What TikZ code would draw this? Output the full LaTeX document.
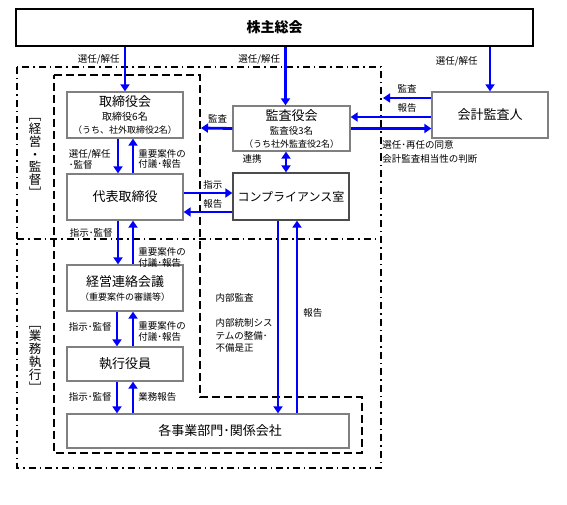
\documentclass[tikz,border=0pt]{standalone}
\usepackage{fontspec}
\setmainfont{Noto Sans CJK JP}
\usetikzlibrary{calc,arrows.meta}

\begin{document}
\begin{tikzpicture}[x=1pt, y=-1pt]
{
	\tikzstyle{topbox} = [rectangle, draw=black, line width=2pt, minimum width=517pt, minimum height=37pt, font=\fontsize{14}{16}\selectfont]
	\tikzstyle{box} = [rectangle, draw=gray, line width=1.3pt, minimum width=116pt, minimum height=46pt, inner sep=1pt, align=center, font=\fontsize{9.5}{13}\selectfont]
	\tikzstyle{arrow} = [line width=2.8pt, blue, -{Triangle[length=7pt,width=9pt]}]
	\tikzstyle{lbl} = [font=\fontsize{9.5}{10.5}\selectfont, inner sep=1pt, align=left, text=black]
	\tikzstyle{vlbl} = [font=\fontsize{12.5}{12.8}\selectfont, inner sep=0pt, align=center]
	\tikzstyle{outerframe} = [line width=1.5pt, dash pattern=on 7pt off 4pt on 1.5pt off 4pt]
	\tikzstyle{innerframe} = [line width=2pt, dash pattern=on 8pt off 4pt]
	\newcommand{\ttl}{\fontsize{13}{13}\selectfont}

	\useasboundingbox (0,0) rectangle (567,505);

	% frames
	\draw [outerframe] (17,67) rectangle (381,468);
	\draw [outerframe] (17,239) -- (381,239);
	\draw [innerframe] (54,75) -- (200,75) -- (200,397) -- (362,397) -- (362,453) -- (54,453) -- cycle;
	\coordinate (innerfr) at (201,128);
	\coordinate (outerfr) at (383,98);

	\node (keiei) at (35,158) [vlbl] {﹇\\経\\営\\・\\監\\督\\﹈};
	\node (gyomu) at (35,359) [vlbl] {﹇\\業\\務\\執\\行\\﹈};

	% boxes
	\node (kabu) at (274.5,27.5) [topbox] {\bfseries 株主総会};
	\node (tori) at (125,115) [box] {{\ttl 取締役会}\\[1pt]{\fontsize{10}{13}\selectfont 取締役6名}\\{\fontsize{9}{13}\selectfont（うち、社外取締役2名）}};
	\node (daihyo) at (125,197) [box, font=\fontsize{13}{15}\selectfont] {代表取締役};
	\node (kansa) at (291.5,128.5) [box, minimum width=117pt, minimum height=45pt] {{\ttl 監査役会}\\[1pt]監査役3名\\{\fontsize{9}{13}\selectfont（うち社外監査役2名）}};
	\node (kaikei) at (490,115) [box, font=\fontsize{13}{15}\selectfont] {会計監査人};
	\node (comp) at (291,196.5) [box, draw=black!70, minimum height=47pt, font=\fontsize{12}{15}\selectfont] {コンプライアンス室};
	\node (renraku) at (125,288) [box] {{\ttl 経営連絡会議}\\[1pt]{\fontsize{9}{13}\selectfont（重要案件の審議等）}};
	\node (shikko) at (125,364) [box, minimum height=34pt, font=\fontsize{13}{15}\selectfont] {執行役員};
	\node (jigyo) at (208,431) [box, minimum width=282pt, minimum height=34pt, font=\fontsize{13}{15}\selectfont] {\hspace{24pt}各事業部門･関係会社};

	% arrows from shareholders
	\coordinate (k2) at ($(kansa.north)+(-6,0)$);
	\draw [arrow] (kabu.south -| tori.north) -- node[lbl, pos=0.28, left=3pt] {選任/解任} (tori.north);
	\draw [arrow] (kabu.south -| k2) -- node[lbl, pos=0.22, left=3pt] {選任/解任} (k2);
	\draw [arrow] (kabu.south -| kaikei.north) -- node[lbl, pos=0.33, left=10pt] {選任/解任} (kaikei.north);

	% audit
	\draw [arrow] ($(kaikei.west)+(0,-17)$) -- node[lbl, above=3pt] {監査} (outerfr);
	\draw [arrow] ($(kaikei.west)+(0,2)$) -- node[lbl, pos=0.3, above=2pt] {報告} ($(kansa.east)+(0,-11.5)$);
	\draw [arrow] (kansa.east) -- node[lbl, pos=0.4, below right, yshift=-10pt, xshift=-3pt, font=\fontsize{9.5}{13.5}\selectfont] {選任･再任の同意\\会計監査相当性の判断} (kansa.east -| kaikei.west);
	\draw [arrow] (kansa.west) -- node[lbl, pos=0.47, above=3pt] {監査} (innerfr);
	\coordinate (k3) at ($(kansa.south)+(-5.5,0)$);
	\draw [arrow, {Triangle[length=7pt,width=9pt]}-{Triangle[length=7pt,width=9pt]}] (k3) -- node[lbl, pos=0.35, left=22pt] {連携} (k3 |- comp.north);

	% management
	\draw [arrow] ($(tori.south)+(-7,0)$) -- node[lbl, pos=0.6, left=5pt] {選任/解任\\･監督} ($(daihyo.north)+(-7,0)$);
	\draw [arrow] ($(daihyo.north)+(8,0)$) -- node[lbl, pos=0.42, right=3pt] {重要案件の\\付議･報告} ($(tori.south)+(8,0)$);
	\draw [arrow] ($(daihyo.east)+(0,-4)$) -- node[lbl, pos=0.6, above=1pt] {指示} ($(comp.west)+(0,-3.5)$);
	\draw [arrow] ($(comp.west)+(0,15.5)$) -- node[lbl, pos=0.4, above=1pt] {報告} ($(daihyo.east)+(0,15)$);

	% execution
	\draw [arrow] ($(daihyo.south)+(-7,0)$) -- node[lbl, pos=0.27, left=3pt] {指示･監督} ($(renraku.north)+(-7,0)$);
	\draw [arrow] ($(renraku.north)+(8,0)$) -- node[lbl, pos=0.16, right=3pt] {重要案件の\\付議･報告} ($(daihyo.south)+(8,0)$);
	\draw [arrow] ($(renraku.south)+(-8,0)$) -- node[lbl, pos=0.44, left=3pt] {指示･監督} ($(shikko.north)+(-8,0)$);
	\draw [arrow] ($(shikko.north)+(8,0)$) -- node[lbl, pos=0.43, right=3pt] {重要案件の\\付議･報告} ($(renraku.south)+(8,0)$);
	\coordinate (s1) at ($(shikko.south)+(-8,0)$);
	\coordinate (s2) at ($(shikko.south)+(8,0)$);
	\draw [arrow] (s1) -- node[lbl, pos=0.48, left=3pt] {指示･監督} (s1 |- jigyo.north);
	\draw [arrow] (s2 |- jigyo.north) -- node[lbl, pos=0.52, right=3pt] {業務報告} (s2);

	% internal audit
	\coordinate (c1) at ($(comp.south)+(-13,0)$);
	\coordinate (c2) at ($(comp.south)+(6,0)$);
	\draw [arrow] (c1) -- node[lbl, pos=0.53, left=3pt, font=\fontsize{9.5}{12.5}\selectfont] {内部監査\\[13pt]内部統制シス\\テムの整備･\\不備是正} (c1 |- jigyo.north);
	\draw [arrow] (c2 |- jigyo.north) -- node[lbl, pos=0.52, right=4pt] {報告} (c2);
}
\end{tikzpicture}
\end{document}
